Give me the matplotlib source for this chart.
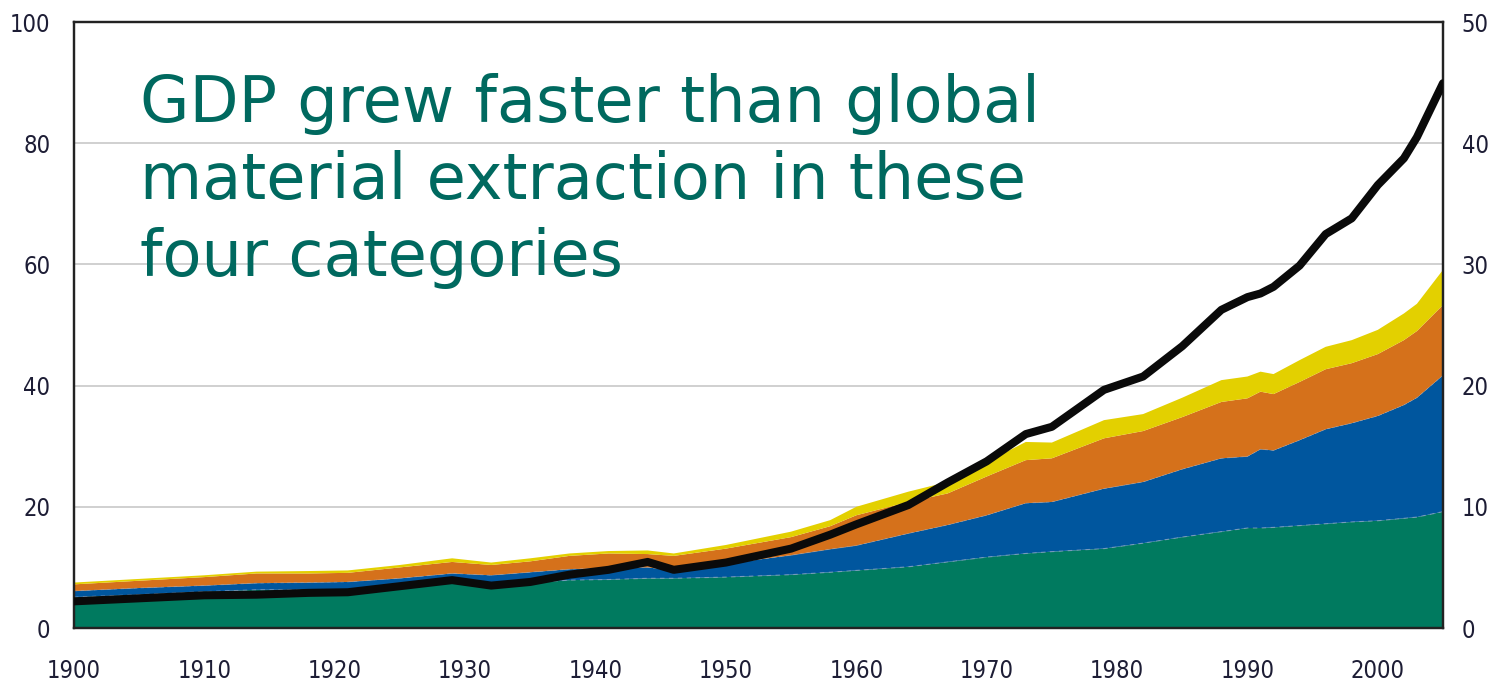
import matplotlib
matplotlib.use("Agg")
import matplotlib.pyplot as plt
import numpy as np

# Sample years
years = [1900, 1905, 1910, 1914, 1918, 1921, 1925, 1929, 1932, 1935, 1938,
         1941, 1944, 1946, 1950, 1955, 1958, 1960, 1964, 1967, 1970, 1973,
         1975, 1979, 1982, 1985, 1988, 1990, 1991, 1992, 1994, 1996, 1998,
         2000, 2002, 2003, 2005]

# Cumulative tops of each material layer (left axis)
biomass_top = [5.1, 5.5, 6.0, 6.3, 6.3, 6.3, 7.0, 7.6, 7.2, 7.5, 7.9,
               8.0, 8.2, 8.2, 8.4, 8.8, 9.2, 9.5, 10.1, 10.9, 11.7, 12.3,
               12.6, 13.1, 14.0, 15.0, 15.9, 16.5, 16.5, 16.6, 16.9, 17.2, 17.5,
               17.7, 18.1, 18.3, 19.2]
fossil_top = [6.1, 6.6, 7.0, 7.4, 7.5, 7.6, 8.2, 9.0, 8.7, 9.2, 9.7,
              9.9, 10.0, 9.5, 10.6, 12.0, 13.0, 13.6, 15.6, 17.0, 18.6, 20.6,
              20.8, 23.0, 24.1, 26.2, 28.0, 28.3, 29.5, 29.3, 31.0, 32.8, 33.8,
              35.0, 36.8, 38.0, 41.7]
construction_top = [7.2, 7.8, 8.4, 9.0, 9.0, 9.1, 10.0, 10.9, 10.4, 11.0, 11.9,
                    12.3, 12.2, 11.9, 13.1, 15.0, 16.8, 18.6, 20.8, 22.2, 25.0, 27.7,
                    28.0, 31.3, 32.5, 34.8, 37.3, 37.9, 39.0, 38.6, 40.6, 42.7, 43.7,
                    45.2, 47.5, 49.0, 53.3]
ores_top = [7.5, 8.1, 8.7, 9.3, 9.4, 9.5, 10.4, 11.5, 10.8, 11.5, 12.3,
            12.7, 12.8, 12.3, 13.7, 15.9, 17.8, 20.0, 22.5, 24.1, 27.4, 30.7,
            30.6, 34.3, 35.3, 38.0, 40.9, 41.5, 42.3, 41.9, 44.2, 46.4, 47.5,
            49.2, 51.9, 53.5, 59.1]

# GDP (right axis)
gdp = [2.2, 2.45, 2.7, 2.75, 2.9, 2.95, 3.45, 3.95, 3.5, 3.8, 4.4,
       4.8, 5.45, 4.8, 5.4, 6.55, 7.7, 8.55, 10.15, 12.0, 13.75, 16.0,
       16.6, 19.65, 20.75, 23.25, 26.25, 27.3, 27.6, 28.15, 29.9, 32.5, 33.8,
       36.55, 38.75, 40.5, 44.95]

left_ticks = [0, 20, 40, 60, 80, 100]
right_ticks = [0, 10, 20, 30, 40, 50]
year_ticks = list(range(1900, 2001, 10))

title_lines = ["GDP grew faster than global",
               "material extraction in these",
               "four categories"]

colors = ["#007A5F", "#00569E", "#D5711B", "#E3D000"]

bm = np.array(biomass_top)
ff = np.array(fossil_top)
cm = np.array(construction_top)
om = np.array(ores_top)
layers = [bm, ff - bm, cm - ff, om - cm]

W, H = 1497, 685
fig = plt.figure(figsize=(W / 100, H / 100), dpi=100)
ax = fig.add_axes([74 / W, 1 - 628 / H, (1443 - 74) / W, (628 - 22) / H])

ax.stackplot(years, *layers, colors=colors, linewidth=0, zorder=2)
ax.plot(years, bm, color="#8fa3c4", lw=0.8, ls=(0, (4, 4)), zorder=2.5, alpha=0.7)
ax.plot(years, ff, color="#8fa3c4", lw=0.6, ls=(0, (4, 4)), zorder=2.5, alpha=0.5)

ax.set_xlim(1900, 2005)
ax.set_ylim(0, 100)
ax.set_yticks(left_ticks)
ax.set_xticks(year_ticks)
for y in left_ticks[1:-1]:
    ax.axhline(y, color="#c8c8c8", lw=1.2, zorder=1)

label_color = "#1d1d35"
tick_kw = dict(fontfamily="DejaVu Sans", fontstretch="condensed", fontsize=17,
               fontweight="medium")
ax.tick_params(axis="both", length=0, colors=label_color)
ax.tick_params(axis="y", pad=17)
ax.tick_params(axis="x", pad=22)
ax.set_xticklabels([str(v) for v in year_ticks], **tick_kw)
ax.set_yticklabels([str(v) for v in left_ticks], **tick_kw)

ax2 = ax.twinx()
ax2.plot(years, gdp, color="#0a0a0a", lw=5.8, solid_capstyle="round",
         solid_joinstyle="round", zorder=5)
ax2.set_ylim(0, 50)
ax2.set_yticks(right_ticks)
ax2.tick_params(axis="y", length=0, colors=label_color, pad=13.5)
ax2.set_yticklabels([str(v) for v in right_ticks], **tick_kw)

for a in (ax, ax2):
    for s in a.spines.values():
        s.set_color("#222222")
        s.set_linewidth(1.6)

baselines = [122, 199, 276]
for line, yb in zip(title_lines, baselines):
    fig.text(140 / W, 1 - yb / H, line, color="#00695F", fontsize=46,
             fontfamily="DejaVu Sans", va="baseline", ha="left")

fig.savefig("out.png", dpi=100)
